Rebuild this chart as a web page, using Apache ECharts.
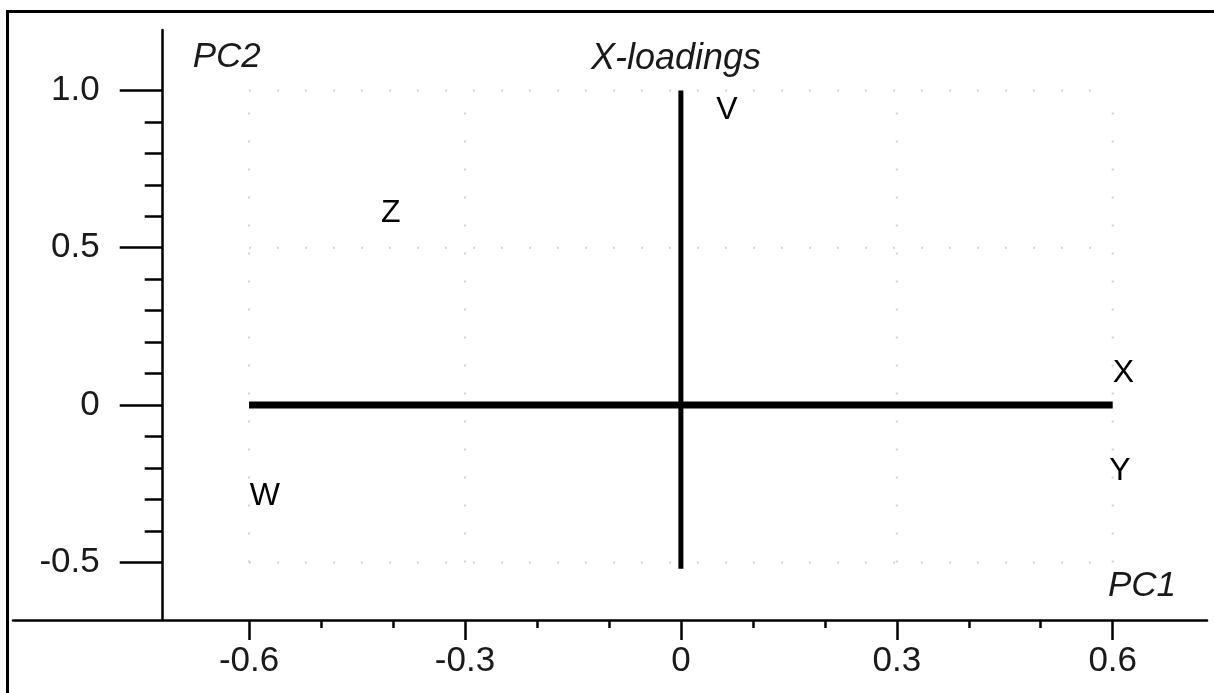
<!DOCTYPE html>
<html>
<head>
<meta charset="utf-8">
<script src="https://cdn.jsdelivr.net/npm/echarts@6/dist/echarts.min.js"></script>
<style>
    html, body { margin: 0; padding: 0; background: #fff; }
    #chart { width: 1214px; height: 693px; }
</style>
</head>
<body>
<div id="chart"></div>
<script>
// axis ranges and ticks
var xRange = [-0.928, 0.731];
var yRange = [-0.683, 1.192];
var xMajor = [-0.6, -0.3, 0, 0.3, 0.6];
var xMinor = [-0.5, -0.4, -0.2, -0.1, 0.1, 0.2, 0.4, 0.5];
var yMajor = [-0.5, 0, 0.5, 1.0];
var yMinor = [-0.4, -0.3, -0.2, -0.1, 0.1, 0.2, 0.3, 0.4, 0.6, 0.7, 0.8, 0.9];
var yAxisAt = -0.72;

// dotted reference grid
var gridCols = [-0.6, -0.3, 0.3, 0.6];
var gridRows = [-0.5, 0.5, 1.0];

// loading lines
var pc1Line = [[-0.6, 0], [0.6, 0]];
var pc2Line = [[0, 1.0], [0, -0.52]];

// variable labels
var varNames = ['V', 'Z', 'W', 'X', 'Y'];
var varPC1 = [0.064, -0.403, -0.578, 0.615, 0.610];
var varPC2 = [0.937, 0.610, -0.289, 0.102, -0.210];

var Chart = echarts.init(document.getElementById('chart'));

function fmt(v) {
    return v === 0 ? '0' : v.toFixed(1);
}

var series = [];
for (var i = 0; i < gridCols.length; i++) {
    series.push({
        type: 'line', symbol: 'none', silent: true,
        lineStyle: { color: '#d2d2d2', width: 2, type: [2, 26] },
        data: [[gridCols[i], gridRows[0]], [gridCols[i], gridRows[gridRows.length - 1]]]
    });
}
for (var j = 0; j < gridRows.length; j++) {
    series.push({
        type: 'line', symbol: 'none', silent: true,
        lineStyle: { color: '#d2d2d2', width: 2, type: [2, 26] },
        data: [[gridCols[0], gridRows[j]], [gridCols[gridCols.length - 1], gridRows[j]]]
    });
}
series.push({
    type: 'line', symbol: 'none',
    lineStyle: { color: '#000', width: 7, cap: 'butt' },
    data: pc1Line
});
series.push({
    type: 'line', symbol: 'none',
    lineStyle: { color: '#000', width: 5, cap: 'butt' },
    data: pc2Line
});
var pts = [];
for (var k = 0; k < varNames.length; k++) {
    pts.push([varPC1[k], varPC2[k], varNames[k]]);
}
series.push({
    type: 'scatter',
    symbolSize: 2,
    itemStyle: { color: '#fff', opacity: 1 },
    label: {
        show: true,
        position: [1, 1],
        align: 'center',
        verticalAlign: 'middle',
        color: '#000',
        fontSize: 32,
        fontFamily: 'Liberation Sans',
        textBorderWidth: 0,
        formatter: function (p) { return p.data[2]; }
    },
    data: pts
});

var axisFont = { color: '#1a1a1a', fontSize: 35, fontFamily: 'Liberation Sans' };
var nameFont = { color: '#1a1a1a', fontSize: 35, fontStyle: 'italic', fontFamily: 'Liberation Sans' };

var option = {
    backgroundColor: '#fff',
    animation: false,
    title: {
        text: 'X-loadings',
        left: 586,
        top: 36,
        textStyle: { color: '#1a1a1a', fontSize: 36, fontStyle: 'italic', fontWeight: 'normal', fontFamily: 'Liberation Sans' }
    },
    graphic: [{
        type: 'rect',
        shape: { x: 7.5, y: 11.5, width: 1230, height: 700 },
        style: { fill: null, stroke: '#000', lineWidth: 3 },
        silent: true
    }],
    grid: { left: 13, right: 7, top: 30, bottom: 73, outerBoundsMode: 'none' },
    xAxis: [{
        type: 'value',
        min: xRange[0], max: xRange[1],
        name: 'PC1',
        nameLocation: 'end',
        nameGap: -31,
        nameTextStyle: Object.assign({ align: 'right', verticalAlign: 'bottom', padding: [0, 0, 16, 0] }, nameFont),
        axisLine: { show: true, onZero: false, lineStyle: { color: '#000', width: 2.5 } },
        axisTick: { show: true, length: 20, customValues: xMajor, lineStyle: { color: '#000', width: 2.5 } },
        axisLabel: Object.assign({ margin: 24, customValues: xMajor, formatter: fmt }, axisFont),
        splitLine: { show: false }
    }, {
        type: 'value',
        position: 'bottom',
        min: xRange[0], max: xRange[1],
        axisLine: { show: false, onZero: false },
        axisTick: { show: true, length: 8, customValues: xMinor, lineStyle: { color: '#000', width: 2.5 } },
        axisLabel: { show: false },
        splitLine: { show: false }
    }],
    yAxis: [{
        type: 'value',
        position: 'left',
        min: yRange[0], max: yRange[1],
        offset: (xRange[0] - yAxisAt) / (xRange[1] - xRange[0]) * 1194,
        name: 'PC2',
        nameLocation: 'end',
        nameGap: -27,
        nameTextStyle: Object.assign({ align: 'left', verticalAlign: 'middle', padding: [0, 0, 0, 30] }, nameFont),
        axisLine: { show: true, onZero: false, lineStyle: { color: '#000', width: 2.5 } },
        axisTick: { show: true, length: 43, customValues: yMajor, lineStyle: { color: '#000', width: 2.5 } },
        axisLabel: Object.assign({ margin: 63, customValues: yMajor, formatter: fmt }, axisFont),
        splitLine: { show: false }
    }, {
        type: 'value',
        position: 'left',
        min: yRange[0], max: yRange[1],
        offset: (xRange[0] - yAxisAt) / (xRange[1] - xRange[0]) * 1194,
        axisLine: { show: false, onZero: false },
        axisTick: { show: true, length: 18, customValues: yMinor, lineStyle: { color: '#000', width: 2.5 } },
        axisLabel: { show: false },
        splitLine: { show: false }
    }],
    series: series
};

Chart.setOption(option);
</script>
</body>
</html>
